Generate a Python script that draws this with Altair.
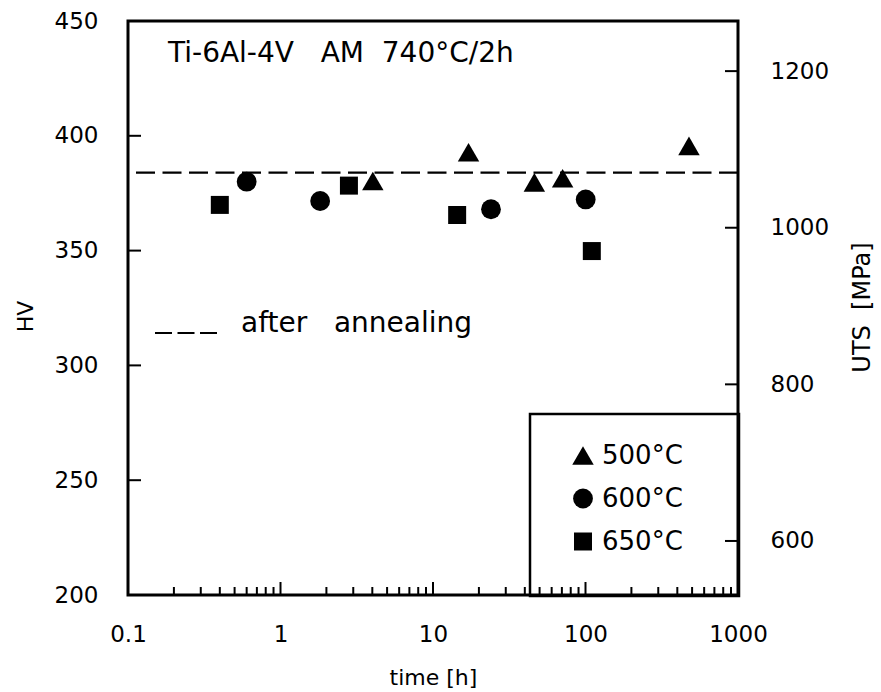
import altair as alt
import pandas as pd

FONT = "DejaVu Sans"

# ---- data ----
series_names = ["500°C", "600°C", "650°C"]
series_shapes = ["triangle-up", "circle", "square"]
series_sizes = [460, 324, 324]

t_500 = [4.03, 17.1, 46.2, 70.8, 477]
hv_500 = [380.3, 392.8, 379.7, 381.5, 395.6]

t_600 = [0.60, 1.82, 24.0, 100.3]
hv_600 = [380.0, 371.6, 368.0, 372.3]

t_650 = [0.40, 2.81, 14.4, 110]
hv_650 = [369.9, 378.3, 365.5, 349.8]

hv_after_annealing = [384]

x_label_values = [0.1, 1, 10, 100, 1000]
x_major_ticks = [1, 10, 100]
x_minor_ticks = [k * d for d in [0.1, 1, 10, 100] for k in range(2, 10)]
hv_label_values = [200, 250, 300, 350, 400, 450]
hv_inner_ticks = [250, 300, 350, 400]
uts_label_values = [600, 800, 1000, 1200]

x_domain = [0.1, 1000]
hv_domain = [200, 450]
uts_domain = [531, 1264]  # UTS equivalent of HV 200 .. 450

W, H = 610, 574

rows = []
for name, ts, hvs in [("500°C", t_500, hv_500), ("600°C", t_600, hv_600), ("650°C", t_650, hv_650)]:
    for t, hv in zip(ts, hvs):
        rows.append({"t": t, "hv": hv, "series": name})
df = pd.DataFrame(rows)

LBL = 23

x_scale = alt.Scale(type="log", domain=x_domain)
x_axis = alt.Axis(
    values=x_label_values, format="~g", ticks=False, tickSize=0, domain=False, grid=False,
    labelFlush=False, labelOverlap=False, labelFont=FONT, labelFontSize=LBL, labelColor="black",
    labelBaseline="middle", labelPadding=39,
    title="time [h]", titleFont=FONT, titleFontSize=22, titleFontWeight="normal", titleColor="black",
    titleX=305, titleY=82, titleAlign="center", titleBaseline="middle",
)
hv_scale = alt.Scale(domain=hv_domain)
hv_axis = alt.Axis(
    values=hv_label_values, ticks=False, tickSize=0, domain=False, grid=False,
    labelFlush=False, labelOverlap=False, labelFont=FONT, labelFontSize=LBL, labelColor="black",
    labelPadding=30,
    title="HV", titleFont=FONT, titleFontSize=22, titleFontWeight="normal", titleColor="black",
    titleAngle=270, titleX=-103, titleY=295, titleAlign="center", titleBaseline="middle",
)


def xenc(field="t"):
    return alt.X(f"{field}:Q", scale=x_scale, axis=x_axis)


def yenc(field="hv"):
    return alt.Y(f"{field}:Q", scale=hv_scale, axis=hv_axis)


one = pd.DataFrame({"a": [0]})

legend_cfg = alt.Legend(
    title=None, orient="none", legendX=442, legendY=421.5, padding=0,
    symbolFillColor="black", symbolStrokeWidth=0, symbolOpacity=1,
    labelFont=FONT, labelFontSize=26, labelColor="black", labelOffset=6,
    rowPadding=17,
)

points = alt.Chart(df).mark_point(filled=True, opacity=1, color="black", strokeWidth=0).encode(
    x=xenc(),
    y=yenc(),
    shape=alt.Shape("series:N", scale=alt.Scale(domain=series_names, range=series_shapes), legend=legend_cfg),
    size=alt.Size("series:N", scale=alt.Scale(domain=series_names, range=series_sizes), legend=legend_cfg),
)

dashed = alt.Chart(pd.DataFrame({"hv": hv_after_annealing})).mark_rule(
    color="black", strokeWidth=2.2, strokeDash=[19, 7.5]
).encode(y=yenc())

x_major = alt.Chart(pd.DataFrame({"t": x_major_ticks})).mark_rule(color="black", strokeWidth=2).encode(
    x=xenc(), y=alt.value(H), y2=alt.value(H - 13)
)
x_minor = alt.Chart(pd.DataFrame({"t": x_minor_ticks})).mark_rule(color="black", strokeWidth=2).encode(
    x=xenc(), y=alt.value(H), y2=alt.value(H - 8)
)
left_ticks = alt.Chart(pd.DataFrame({"hv": hv_inner_ticks})).mark_rule(color="black", strokeWidth=2).encode(
    y=yenc(), x=alt.value(0), x2=alt.value(13)
)

legend_box = alt.Chart(one).mark_rect(fill="transparent", stroke="black", strokeWidth=2.5).encode(
    x=alt.value(402), x2=alt.value(W + 1), y=alt.value(393), y2=alt.value(H + 1)
)

title_text = alt.Chart(one).mark_text(
    text="Ti-6Al-4V\u00a0\u00a0\u00a0AM\u00a0\u00a0740°C/2h", font=FONT, fontSize=28, color="black",
    align="left", baseline="alphabetic",
).encode(x=alt.value(40), y=alt.value(41))

anneal_text = alt.Chart(one).mark_text(
    text="after\u00a0\u00a0\u00a0annealing", font=FONT, fontSize=28, color="black",
    align="left", baseline="alphabetic",
).encode(x=alt.value(113), y=alt.value(311))

anneal_sample = alt.Chart(one).mark_rule(color="black", strokeWidth=2.2, strokeDash=[17, 5.5]).encode(
    x=alt.value(27), x2=alt.value(89), y=alt.value(312)
)

hv_layer = alt.layer(
    legend_box, dashed, x_major, x_minor, left_ticks, title_text, anneal_sample, anneal_text, points
)

uts_ticks = alt.Chart(pd.DataFrame({"uts": uts_label_values})).mark_rule(color="black", strokeWidth=2).encode(
    y=alt.Y(
        "uts:Q",
        scale=alt.Scale(domain=uts_domain),
        axis=alt.Axis(
            orient="right", values=uts_label_values, format="d", ticks=False, tickSize=0, domain=False,
            grid=False, labelFlush=False, labelOverlap=False, labelFont=FONT, labelFontSize=LBL,
            labelColor="black", labelPadding=32,
            title="UTS\u00a0\u00a0[MPa]", titleFont=FONT, titleFontSize=24, titleFontWeight="normal",
            titleColor="black", titleAngle=270, titleX=124, titleY=286, titleAlign="center",
            titleBaseline="middle",
        ),
    ),
    x=alt.value(W),
    x2=alt.value(W - 13),
)

chart = (
    alt.layer(hv_layer, uts_ticks)
    .resolve_scale(y="independent")
    .properties(
        width=W,
        height=H,
        padding={"left": 128, "top": 21, "right": 143, "bottom": 97},
        autosize=alt.AutoSizeParams(type="none"),
        background="white",
    )
    .configure_view(stroke="black", strokeWidth=3)
)

chart.save("out.html", embed_options={"renderer": "svg", "actions": False})
